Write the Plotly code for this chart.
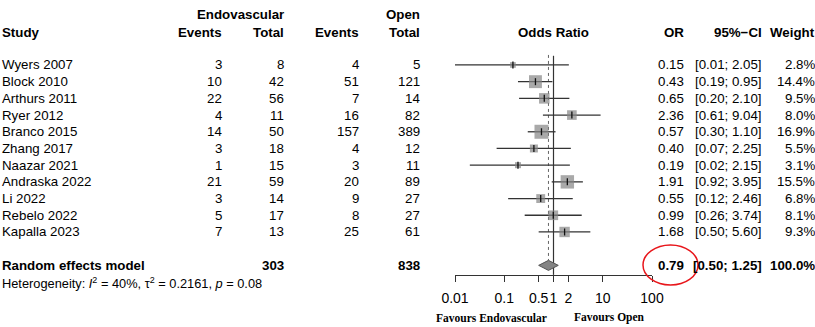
import plotly.graph_objects as go

# ---------------- data ----------------
studies = ["Wyers 2007", "Block 2010", "Arthurs 2011", "Ryer 2012", "Branco 2015",
           "Zhang 2017", "Naazar 2021", "Andraska 2022", "Li 2022", "Rebelo 2022",
           "Kapalla 2023"]
endo_events = [3, 10, 22, 4, 14, 3, 1, 21, 3, 5, 7]
endo_total = [8, 42, 56, 11, 50, 18, 15, 59, 14, 17, 13]
open_events = [4, 51, 7, 16, 157, 4, 3, 20, 9, 8, 25]
open_total = [5, 121, 14, 82, 389, 12, 11, 89, 27, 27, 61]
or_est = [0.15, 0.43, 0.65, 2.36, 0.57, 0.40, 0.19, 1.91, 0.55, 0.99, 1.68]
ci_low = [0.01, 0.19, 0.20, 0.61, 0.30, 0.07, 0.02, 0.92, 0.12, 0.26, 0.50]
ci_high = [2.05, 0.95, 2.10, 9.04, 1.10, 2.25, 2.15, 3.95, 2.46, 3.74, 5.60]
weights = [2.8, 14.4, 9.5, 8.0, 16.9, 5.5, 3.1, 15.5, 6.8, 8.1, 9.3]
re_label = "Random effects model"
re_or, re_low, re_high = 0.79, 0.50, 1.25
re_weight = 100.0
het_text = "Heterogeneity: <i>I</i><sup>2</sup> = 40%, τ<sup>2</sup> = 0.2161, <i>p</i> = 0.08"
tick_vals = [0.01, 0.1, 0.5, 1, 2, 10, 100]
tick_text = ["0.01", "0.1", "0.5", "1", "2", "10", "100"]
label_left = "Favours Endovascular"
label_right = "Favours Open"

# ---------------- layout constants ----------------
W, H = 815, 327
SANS = "Liberation Sans, Arial, sans-serif"
SERIF = "Liberation Serif, Times New Roman, serif"
FS = 13.3
n = len(studies)
row_y = list(range(n))
re_y = n + 1
het_y = re_y + 1.06
hdr1_y, hdr2_y = -3.0, -1.95
axis_y = 12.57
fav_y = 15.15

fig = go.Figure()

# reference lines
fig.add_trace(go.Scatter(x=[1, 1], y=[-0.55, axis_y], mode="lines",
                         line=dict(color="#333333", width=1.2), hoverinfo="skip"))
fig.add_trace(go.Scatter(x=[re_or, re_or], y=[-0.6, re_y - 0.3], mode="lines",
                         line=dict(color="#666666", width=1, dash="dot"), hoverinfo="skip"))

# CI lines
cx, cy = [], []
for lo, hi, y in zip(ci_low, ci_high, row_y):
    cx += [lo, hi, None]
    cy += [y, y, None]
fig.add_trace(go.Scatter(x=cx, y=cy, mode="lines",
                         line=dict(color="#333333", width=1.3), hoverinfo="skip"))

# squares (area proportional to weight)
wmax = max(weights)
sizes = [14 * (w / wmax) ** 0.5 for w in weights]
fig.add_trace(go.Scatter(x=or_est, y=row_y, mode="markers",
                         marker=dict(symbol="square", size=sizes, color="#848484",
                                     line=dict(width=0)), hoverinfo="skip"))
fig.add_trace(go.Scatter(x=or_est, y=row_y, mode="markers",
                         marker=dict(symbol="line-ns", size=5,
                                     line=dict(color="#111111", width=1.3)),
                         hoverinfo="skip"))

# diamond
fig.add_trace(go.Scatter(x=[re_low, re_or, re_high, re_or, re_low],
                         y=[re_y, re_y - 0.3, re_y, re_y + 0.3, re_y],
                         mode="lines", fill="toself", fillcolor="#848484",
                         line=dict(color="#555555", width=1), hoverinfo="skip"))

anns = []


def txt(xpx, y, s, anchor="right", bold=False, size=FS, family=SANS):
    if bold:
        s = "<b>" + s + "</b>"
    anns.append(dict(x=xpx / W, xref="paper", y=y, yref="y", text=s,
                     xanchor=anchor, yanchor="middle", showarrow=False,
                     font=dict(family=family, size=size, color="black")))


# column x positions (pixels)
X_STUDY, X_EE, X_ET, X_OE, X_OT = 0, 224, 286, 361, 422
X_ODDS, X_OR, X_CI, X_W = 553, 686, 764, 817

# headers
txt(240, hdr1_y, "Endovascular", "center", True)
txt(X_OT, hdr1_y, "Open", "right", True)
txt(X_STUDY, hdr2_y, "Study", "left", True)
txt(X_EE, hdr2_y, "Events", "right", True)
txt(X_ET, hdr2_y, "Total", "right", True)
txt(X_OE, hdr2_y, "Events", "right", True)
txt(X_OT, hdr2_y, "Total", "right", True)
txt(X_ODDS, hdr2_y, "Odds Ratio", "center", True)
txt(X_OR, hdr2_y, "OR", "right", True)
txt(X_CI, hdr2_y, "95%−CI", "right", True)
txt(X_W, hdr2_y, "Weight", "right", True)

# study rows
for i in range(n):
    y = row_y[i]
    txt(X_STUDY, y, studies[i], "left")
    txt(X_EE, y, str(endo_events[i]))
    txt(X_ET, y, str(endo_total[i]))
    txt(X_OE, y, str(open_events[i]))
    txt(X_OT, y, str(open_total[i]))
    txt(X_OR, y, f"{or_est[i]:.2f}")
    txt(X_CI, y, f"[{ci_low[i]:.2f}; {ci_high[i]:.2f}]")
    txt(X_W, y, f"{weights[i]:.1f}%")

# random effects row
txt(X_STUDY, re_y, re_label, "left", True)
txt(X_ET, re_y, str(sum(endo_total)), "right", True)
txt(X_OT, re_y, str(sum(open_total)), "right", True)
txt(X_OR, re_y, f"{re_or:.2f}", "right", True)
txt(X_CI, re_y, f"[{re_low:.2f}; {re_high:.2f}]", "right", True)
txt(X_W, re_y, f"{re_weight:.1f}%", "right", True)
txt(X_STUDY, het_y, het_text, "left", False, 12.8)

# favours labels
txt(492, fav_y, label_left, "center", True, 11.5, SERIF)
txt(609, fav_y, label_right, "center", True, 11.5, SERIF)

# red ellipse highlight
shapes = [dict(type="circle", xref="paper", yref="paper",
               x0=643 / W, x1=698 / W, y0=1 - 285 / H, y1=1 - 245 / H,
               line=dict(color="#e8161b", width=1.5))]

fig.update_layout(
    width=W, height=H, margin=dict(l=0, r=0, t=0, b=0, pad=0, autoexpand=False),
    paper_bgcolor="white", plot_bgcolor="white", showlegend=False,
    annotations=anns, shapes=shapes,
    xaxis=dict(type="log", range=[-2, 2], domain=[455 / W, 652 / W],
               anchor="free", position=(H - 275) / H, automargin=False,
               showline=True, linecolor="#333333", linewidth=1.2,
               ticks="outside", ticklen=6, tickcolor="#333333", tickwidth=1.2,
               tickvals=tick_vals, ticktext=tick_text, tickangle=0,
               ticklabelstandoff=4,
               showgrid=False, zeroline=False,
               tickfont=dict(family=SANS, size=14, color="black")),
    yaxis=dict(range=[15.69, -3.89], domain=[0, 1], visible=False,
               automargin=False, showgrid=False, zeroline=False),
)

fig.write_html("out.html")
